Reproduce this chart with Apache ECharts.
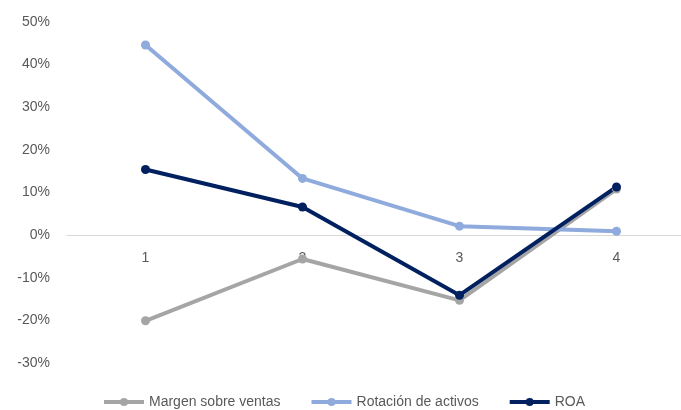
<!DOCTYPE html>
<html>
<head>
<meta charset="utf-8">
<script src="https://cdn.jsdelivr.net/npm/echarts@6/dist/echarts.min.js"></script>
<style>
  html, body { margin: 0; padding: 0; background: #fff; overflow: hidden; }
  /* The plot runs past the right edge of the window, so the canvas is wider */
  #chart { width: 695px; height: 410px; }
</style>
</head>
<body>
<div id="chart"></div>
<script>
// Periods on the category axis
const categories = ['1', '2', '3', '4'];
// Ratios as fractions (0.10 = 10%)
const margenVentas = [-0.201, -0.056, -0.153, 0.108];
const rotacionActivos = [0.446, 0.133, 0.021, 0.009];
const roa = [0.154, 0.066, -0.141, 0.113];

const textColor = '#595959';
const fontFamily = '"Liberation Sans", "Open Sans", sans-serif';

// y range of the value axis
const yMin = -0.3, yMax = 0.5;
const gridTop = 22, gridHeight = 341;

function lineSeries(name, data, color) {
  return {
    name: name,
    type: 'line',
    data: data,
    symbol: 'circle',
    symbolSize: 9,
    lineStyle: { width: 4, color: color },
    itemStyle: { color: color },
    emphasis: { disabled: true }
  };
}

// Category axis sits on the zero line: shift it up from the grid bottom
const zeroOffset = -gridHeight * (0 - yMin) / (yMax - yMin);

const chart = echarts.init(document.getElementById('chart'));
chart.setOption({
  animation: false,
  textStyle: { fontFamily: fontFamily },
  grid: { left: 67, top: gridTop, right: 0, height: gridHeight },
  legend: {
    top: 390,
    left: 97,
    itemWidth: 40,
    itemHeight: 10,
    itemGap: 29,
    lineStyle: { width: 4 },
    textStyle: { color: textColor, fontSize: 14, fontFamily: fontFamily },
    data: ['Margen sobre ventas', 'Rotación de activos', 'ROA']
  },
  xAxis: {
    type: 'category',
    data: categories,
    boundaryGap: true,
    position: 'bottom',
    offset: zeroOffset,
    axisLine: { onZero: false, lineStyle: { color: '#d9d9d9', width: 1 } },
    axisTick: { show: false },
    axisLabel: { color: textColor, fontSize: 14, margin: 16 }
  },
  yAxis: {
    type: 'value',
    min: yMin,
    max: yMax,
    interval: 0.1,
    splitLine: { show: false },
    axisLine: { show: false },
    axisTick: { show: false },
    axisLabel: {
      color: textColor,
      fontSize: 14,
      margin: 17,
      formatter: v => Math.round(v * 100) + '%'
    }
  },
  series: [
    lineSeries('Margen sobre ventas', margenVentas, '#A5A5A5'),
    lineSeries('Rotación de activos', rotacionActivos, '#8FAADC'),
    lineSeries('ROA', roa, '#002060')
  ]
});
</script>
</body>
</html>
